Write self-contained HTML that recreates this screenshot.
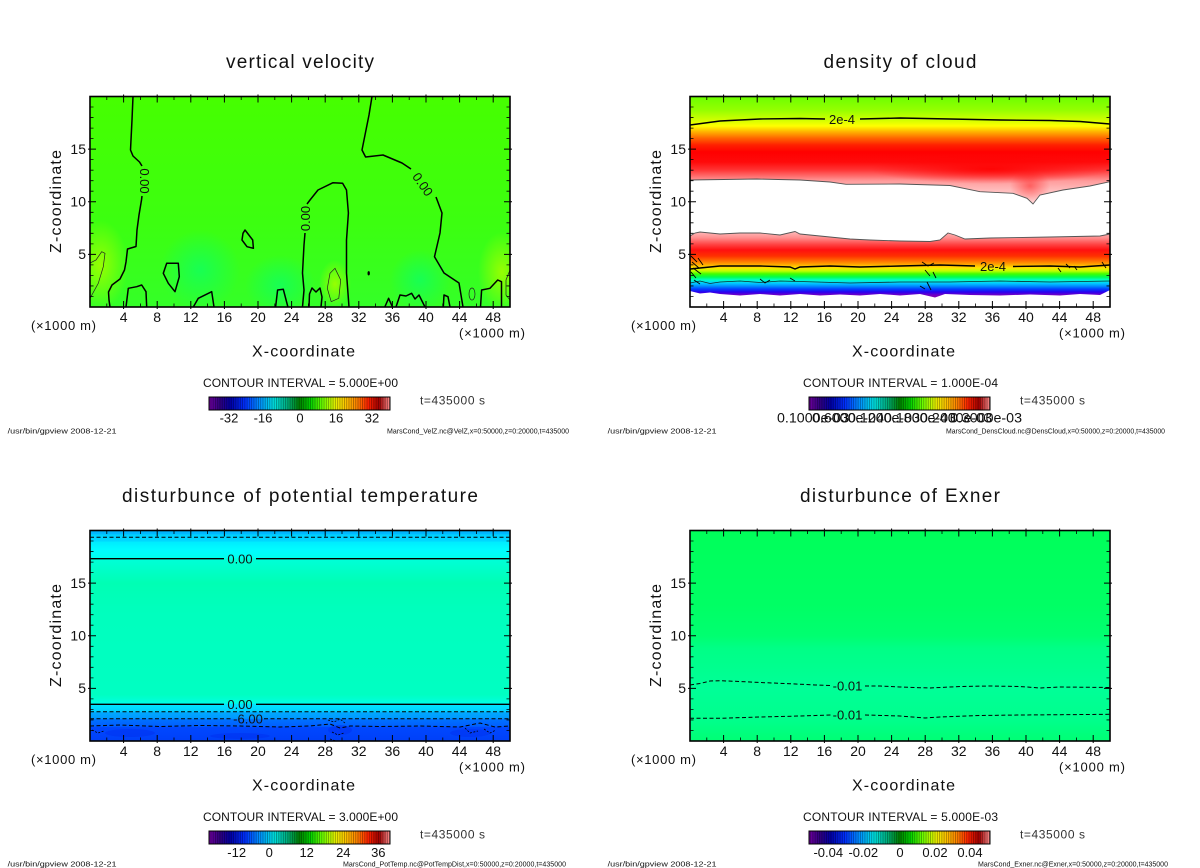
<!DOCTYPE html>
<html><head><meta charset="utf-8"><style>
html,body{margin:0;padding:0;background:#fff;}
svg{display:block;}
text{font-family:"Liberation Sans",sans-serif;fill:#111;}
</style></head><body>
<svg width="1200" height="868" viewBox="0 0 1200 868" xmlns="http://www.w3.org/2000/svg">
<defs>
  <clipPath id="c1"><rect x="90" y="96.5" width="420" height="210.5"/></clipPath>
  <clipPath id="c2"><rect x="690" y="96.5" width="420" height="210.5"/></clipPath>
  <clipPath id="c3"><rect x="90" y="530.5" width="420" height="210.5"/></clipPath>
  <clipPath id="c4"><rect x="690" y="530.5" width="420" height="210.5"/></clipPath>
  <linearGradient id="vvbg" x1="0" y1="96.5" x2="0" y2="307" gradientUnits="userSpaceOnUse">
    <stop offset="0" stop-color="#46ff00"/><stop offset="0.6" stop-color="#3cff10"/><stop offset="1" stop-color="#34ff28"/>
  </linearGradient>
  <radialGradient id="ylw"><stop offset="0" stop-color="#9cff00" stop-opacity="0.95"/><stop offset="1" stop-color="#9cff00" stop-opacity="0"/></radialGradient>
  <radialGradient id="cyg"><stop offset="0" stop-color="#10ff60" stop-opacity="0.8"/><stop offset="1" stop-color="#10ff60" stop-opacity="0"/></radialGradient>
  <linearGradient id="dcu" x1="0" y1="96.5" x2="0" y2="205" gradientUnits="userSpaceOnUse">
    <stop offset="0" stop-color="#6cff00"/>
    <stop offset="0.124" stop-color="#94ff00"/>
    <stop offset="0.217" stop-color="#d0ff00"/>
    <stop offset="0.272" stop-color="#ffff00"/>
    <stop offset="0.327" stop-color="#ffb000"/>
    <stop offset="0.382" stop-color="#ff6800"/>
    <stop offset="0.447" stop-color="#ff2000"/>
    <stop offset="0.512" stop-color="#ff0000"/>
    <stop offset="0.604" stop-color="#ff0a0a"/>
    <stop offset="0.677" stop-color="#ff3434"/>
    <stop offset="0.733" stop-color="#ff6c6c"/>
    <stop offset="0.779" stop-color="#ff9c9c"/>
    <stop offset="0.862" stop-color="#ffbcbc"/>
    <stop offset="1" stop-color="#ffd8d8"/>
  </linearGradient>
  <radialGradient id="redo"><stop offset="0" stop-color="#ff0000" stop-opacity="0.9"/><stop offset="1" stop-color="#ff0000" stop-opacity="0"/></radialGradient>
  <linearGradient id="dcl" x1="0" y1="231" x2="0" y2="297" gradientUnits="userSpaceOnUse">
    <stop offset="0" stop-color="#ffc0c0"/>
    <stop offset="0.106" stop-color="#ff8c8c"/>
    <stop offset="0.197" stop-color="#ff4848"/>
    <stop offset="0.288" stop-color="#ff1010"/>
    <stop offset="0.379" stop-color="#ff3000"/>
    <stop offset="0.44" stop-color="#ff6400"/>
    <stop offset="0.5" stop-color="#ffa000"/>
    <stop offset="0.56" stop-color="#ffe400"/>
    <stop offset="0.606" stop-color="#c0ff00"/>
    <stop offset="0.65" stop-color="#40ff00"/>
    <stop offset="0.697" stop-color="#00ff50"/>
    <stop offset="0.742" stop-color="#00ffc8"/>
    <stop offset="0.788" stop-color="#00d0ff"/>
    <stop offset="0.833" stop-color="#0090ff"/>
    <stop offset="0.879" stop-color="#0040ff"/>
    <stop offset="0.924" stop-color="#2800f0"/>
    <stop offset="0.97" stop-color="#7000c4"/>
    <stop offset="1" stop-color="#8000b0"/>
  </linearGradient>
  <linearGradient id="ptg" x1="0" y1="530.5" x2="0" y2="741" gradientUnits="userSpaceOnUse">
    <stop offset="0" stop-color="#00b4ff"/>
    <stop offset="0.016" stop-color="#00b8ff"/>
    <stop offset="0.02" stop-color="#00d0ff"/>
    <stop offset="0.05" stop-color="#00d8ff"/>
    <stop offset="0.055" stop-color="#00ecff"/>
    <stop offset="0.09" stop-color="#00fcff"/>
    <stop offset="0.13" stop-color="#00fff0"/>
    <stop offset="0.135" stop-color="#00ffd8"/>
    <stop offset="0.25" stop-color="#00ffb4"/>
    <stop offset="0.4" stop-color="#00ffbe"/>
    <stop offset="0.78" stop-color="#00ffc2"/>
    <stop offset="0.8" stop-color="#00ffd0"/>
    <stop offset="0.82" stop-color="#00ffe4"/>
    <stop offset="0.826" stop-color="#00e4ff"/>
    <stop offset="0.86" stop-color="#00d0ff"/>
    <stop offset="0.865" stop-color="#00a8ff"/>
    <stop offset="0.893" stop-color="#0098ff"/>
    <stop offset="0.898" stop-color="#0070ff"/>
    <stop offset="0.93" stop-color="#0060ff"/>
    <stop offset="0.935" stop-color="#0048ff"/>
    <stop offset="1" stop-color="#0040f8"/>
  </linearGradient>
  <linearGradient id="exg" x1="0" y1="530.5" x2="0" y2="741" gradientUnits="userSpaceOnUse">
    <stop offset="0" stop-color="#00ff5a"/>
    <stop offset="0.35" stop-color="#00ff64"/>
    <stop offset="0.5" stop-color="#00ff70"/>
    <stop offset="0.56" stop-color="#00ff86"/>
    <stop offset="0.75" stop-color="#00ff98"/>
    <stop offset="0.9" stop-color="#00ff8c"/>
    <stop offset="1" stop-color="#00ff74"/>
  </linearGradient>
  <linearGradient id="cb" x1="0" y1="0" x2="1" y2="0">
    <stop offset="0" stop-color="#7000a0"/>
    <stop offset="0.06" stop-color="#300080"/>
    <stop offset="0.12" stop-color="#0000a8"/>
    <stop offset="0.2" stop-color="#0030ff"/>
    <stop offset="0.28" stop-color="#0090ff"/>
    <stop offset="0.36" stop-color="#00e0e0"/>
    <stop offset="0.43" stop-color="#00b080"/>
    <stop offset="0.5" stop-color="#008000"/>
    <stop offset="0.56" stop-color="#00d000"/>
    <stop offset="0.63" stop-color="#70ff00"/>
    <stop offset="0.7" stop-color="#e8f000"/>
    <stop offset="0.76" stop-color="#ffc000"/>
    <stop offset="0.82" stop-color="#ff8000"/>
    <stop offset="0.88" stop-color="#ff2000"/>
    <stop offset="0.94" stop-color="#a00000"/>
    <stop offset="1" stop-color="#ff9090"/>
  </linearGradient>
  <pattern id="st" width="2.263" height="20" patternUnits="userSpaceOnUse">
    <rect width="0.9" height="20" fill="#000" opacity="0.32"/>
  </pattern>
  <g id="tk" fill="none" stroke="#000">
    <path stroke-width="1" d="M33.6,-2v8M67.2,-2v8M100.8,-2v8M134.4,-2v8M168,-2v8M201.6,-2v8M235.2,-2v8M268.8,-2v8M302.4,-2v8M336,-2v8M369.6,-2v8M403.2,-2v8
    M33.6,212.5v-8M67.2,212.5v-8M100.8,212.5v-8M134.4,212.5v-8M168,212.5v-8M201.6,212.5v-8M235.2,212.5v-8M268.8,212.5v-8M302.4,212.5v-8M336,212.5v-8M369.6,212.5v-8M403.2,212.5v-8
    M-2,157.9h8M-2,105.25h8M-2,52.6h8M422,157.9h-8M422,105.25h-8M422,52.6h-8"/>
    <path stroke-width="0.8" d="M16.8,0v3.5M50.4,0v3.5M84,0v3.5M117.6,0v3.5M151.2,0v3.5M184.8,0v3.5M218.4,0v3.5M252,0v3.5M285.6,0v3.5M319.2,0v3.5M352.8,0v3.5M386.4,0v3.5
    M16.8,210.5v-3.5M50.4,210.5v-3.5M84,210.5v-3.5M117.6,210.5v-3.5M151.2,210.5v-3.5M184.8,210.5v-3.5M218.4,210.5v-3.5M252,210.5v-3.5M285.6,210.5v-3.5M319.2,210.5v-3.5M352.8,210.5v-3.5M386.4,210.5v-3.5
    M0,200h3.5M0,189.45h3.5M0,178.9h3.5M0,168.4h3.5M0,147.35h3.5M0,136.8h3.5M0,126.3h3.5M0,115.8h3.5M0,94.7h3.5M0,84.2h3.5M0,73.7h3.5M0,63.15h3.5M0,42.1h3.5M0,31.6h3.5M0,21.05h3.5M0,10.5h3.5
    M420,200h-3.5M420,189.45h-3.5M420,178.9h-3.5M420,168.4h-3.5M420,147.35h-3.5M420,136.8h-3.5M420,126.3h-3.5M420,115.8h-3.5M420,94.7h-3.5M420,84.2h-3.5M420,73.7h-3.5M420,63.15h-3.5M420,42.1h-3.5M420,31.6h-3.5M420,21.05h-3.5M420,10.5h-3.5"/>
    <rect x="0" y="0" width="420" height="210.5" stroke-width="1.6"/>
  </g>
</defs>
<rect width="1200" height="868" fill="#fff"/>

<!-- ============ PANEL 1: vertical velocity ============ -->
<g clip-path="url(#c1)">
  <rect x="90" y="96.5" width="420" height="210.5" fill="url(#vvbg)"/>
  <ellipse cx="100" cy="265" rx="28" ry="45" fill="url(#ylw)"/>
  <ellipse cx="502" cy="272" rx="24" ry="40" fill="url(#ylw)"/>
  <ellipse cx="335" cy="284" rx="16" ry="24" fill="url(#ylw)"/>
  <ellipse cx="200" cy="270" rx="40" ry="40" fill="url(#cyg)"/>
  <ellipse cx="280" cy="285" rx="35" ry="30" fill="url(#cyg)"/>
  <ellipse cx="420" cy="280" rx="30" ry="30" fill="url(#cyg)"/>
  <g fill="none" stroke="#000" stroke-width="1.5" stroke-linejoin="round">
    <path d="M133,96.5 L132,120 L130.5,150 L133,156 L139.5,162 L142,166"/>
    <path d="M142,196 L141.5,200 L139,215 L137,230 L136,246.5 L127.5,249 L126,262 L124.5,270 L120,279 L112,285 L108.5,292 L109,300 L110,307"/>
    <path d="M302.5,307 L304,290 L302.5,273 L304,245 L305,233"/>
    <path d="M307,204 L310,200 L318,190 L333,182.7 L342.6,183.3 L346.5,190 L348.4,213 L346.5,240 L346.5,273 L349,307"/>
    <path d="M372,96.5 L369,115 L365,135 L362,150 L365.6,157 L383,155 L402,163 L411,169"/>
    <path d="M436,197 L442,213 L440,233 L434.5,256.7 L444,273 L459,283 L463,307"/>
    <path d="M166.7,263.3 L178.3,263.3 L179.3,276.7 L175,291.7 L168.3,283.3 L163.3,273.3 Z"/>
    <path d="M245,230 L252.7,240 L253.4,248.3 L247,246.7 L242,240 L243,233.3 Z"/>
    <path d="M126,307 L128.3,288.3 L136.7,286.7 L141.7,285 L146,291.7 L146.7,307"/>
    <path d="M193.3,307 L198.3,298.3 L211.7,291.7 L214,307"/>
    <path d="M275.6,307 L277.6,290 L283.3,289.3 L287.9,307"/>
    <path d="M309,307 L309.5,294 L312,288 L316,292 L320,288 L322,297 L321,307"/>
    <path d="M384.8,307 L388.6,298.3 L392.5,307"/>
    <path d="M396,307 L400,295 L406,296 L411.6,293.3 L415,299 L419,295 L425,307"/>
    <path d="M443.3,307 L444,295 L448,296.7 L450,307"/>
    <path d="M480.5,307 L481.6,290 L490,288.3 L497.7,280 L501.5,281.7 L501.5,307"/>
  </g>
  <ellipse cx="368.7" cy="273.3" rx="1.2" ry="2.2" fill="#000"/>
  <g fill="none" stroke="#222" stroke-width="0.7">
    <path d="M90,263 L96,260 L101.7,251.7 L105,253.3 L103.3,266.7 L98.3,283.3 L90,298.3"/>
    <path d="M335,268.3 L340.7,280 L338.8,298.3 L331.2,301.7 L327.3,288.3 L330,273.3 Z"/>
    <ellipse cx="472" cy="294" rx="3" ry="6"/>
    <path d="M510,270 L506,280 L506,295 L510,300"/>
  </g>
</g>
<text x="0" y="0" font-size="13" text-anchor="middle" transform="translate(140,181) rotate(90)">0.00</text>
<text x="0" y="0" font-size="13" text-anchor="middle" transform="translate(310,218.5) rotate(-90)">0.00</text>
<text x="0" y="0" font-size="13" text-anchor="middle" transform="translate(419,187) rotate(55)">0.00</text>
<use href="#tk" transform="translate(90,96.5)"/>

<text x="300" y="68" font-size="19" text-anchor="middle" textLength="148" lengthAdjust="spacing">vertical velocity</text>
<text font-size="16" text-anchor="middle" transform="translate(61,201.5) rotate(-90)" textLength="103" lengthAdjust="spacing">Z-coordinate</text>
<g font-size="14" text-anchor="end"><text x="86" y="154">15</text><text x="86" y="206.5">10</text><text x="86" y="259.2">5</text></g>
<g font-size="14" text-anchor="middle">
<text x="123.6" y="322">4</text><text x="157.2" y="322">8</text><text x="190.8" y="322">12</text><text x="224.4" y="322">16</text><text x="258" y="322">20</text><text x="291.6" y="322">24</text><text x="325.2" y="322">28</text><text x="358.8" y="322">32</text><text x="392.4" y="322">36</text><text x="426" y="322">40</text><text x="459.6" y="322">44</text><text x="493.2" y="322">48</text>
</g>
<text x="31" y="330" font-size="13" textLength="65" lengthAdjust="spacing">(×1000 m)</text>
<text x="459" y="337.5" font-size="13" textLength="66" lengthAdjust="spacing">(×1000 m)</text>
<text x="303.5" y="356.5" font-size="16" text-anchor="middle" textLength="103" lengthAdjust="spacing">X-coordinate</text>
<text x="203" y="387" font-size="12" textLength="195" lengthAdjust="spacing">CONTOUR INTERVAL = 5.000E+00</text>
<rect x="209" y="397" width="181" height="13" fill="url(#cb)"/><rect x="209" y="397" width="181" height="13" fill="url(#st)"/><rect x="209" y="397" width="181" height="13" fill="none" stroke="#000" stroke-width="1"/>
<g font-size="13" text-anchor="middle"><text x="229" y="422.5">-32</text><text x="263" y="422.5">-16</text><text x="300" y="422.5">0</text><text x="336" y="422.5">16</text><text x="372" y="422.5">32</text></g>
<text x="420" y="404.5" font-size="12" textLength="65" lengthAdjust="spacing" style="fill:#333">t=435000 s</text>
<text x="7.6" y="433.5" font-size="7" textLength="109" lengthAdjust="spacingAndGlyphs">/usr/bin/gpview  2008-12-21</text>
<text x="387" y="433.5" font-size="7" textLength="182" lengthAdjust="spacingAndGlyphs">MarsCond_VelZ.nc@VelZ,x=0:50000,z=0:20000,t=435000</text>

<!-- ============ PANEL 2: density of cloud ============ -->
<g clip-path="url(#c2)">
  <rect x="690" y="96.5" width="420" height="210.5" fill="#fff"/>
  <clipPath id="cu"><path d="M690,96.5 H1110 V181.7 L1090,186 L1063,190 L1040,195 L1033,204 L1027,198.3 L1013,193.3 L980,191.7 L950,185.5 L900,184 L846,184.3 L830,182 L800,180 L757,179 L690,180 Z"/></clipPath>
  <path d="M690,96.5 H1110 V181.7 L1090,186 L1063,190 L1040,195 L1033,204 L1027,198.3 L1013,193.3 L980,191.7 L950,185.5 L900,184 L846,184.3 L830,182 L800,180 L757,179 L690,180 Z" fill="url(#dcu)"/>
  <g clip-path="url(#cu)">
    <ellipse cx="990" cy="169" rx="120" ry="15" fill="url(#redo)"/>
    <ellipse cx="1030" cy="186" rx="20" ry="16" fill="url(#redo)" opacity="0.5"/>
  </g>
  <path d="M690,180 L757,179 L800,180 L830,182 L846,184.3 L900,184 L950,185.5 L980,191.7 L1013,193.3 L1027,198.3 L1033,204 L1040,195 L1063,190 L1090,186 L1110,181.7" fill="none" stroke="#555" stroke-width="0.9"/>
  <path d="M690,236 L695,233 L700,232 L720,234 L740,233 L760,233 L780,235 L795,231.5 L800,234 L820,236 L850,239 L870,240 L900,241 L930,241.5 L940,240 L948,233 L955,235 L965,239 L990,238 L1050,237 L1100,236 L1110,234 L1110,290 L1106,292 L1100,295 L1080,294 L1060,295.5 L1030,294.5 L1000,295.5 L970,295 L945,294 L935,297.5 L920,294 L900,295.5 L880,294 L860,295.5 L840,294.5 L820,295.5 L800,294 L780,295.5 L760,294 L740,295.5 L720,294 L710,292.5 L700,293.5 L690,291 Z" fill="url(#dcl)"/>
  <path d="M690,236 L695,233 L700,232 L720,234 L740,233 L760,233 L780,235 L795,231.5 L800,234 L820,236 L850,239 L870,240 L900,241 L930,241.5 L940,240 L948,233 L955,235 L965,239 L990,238 L1050,237 L1100,236 L1110,234" fill="none" stroke="#555" stroke-width="0.9"/>
  <g fill="none" stroke="#000" stroke-width="1.4">
    <path d="M690,125 L720,121 L760,119 L800,118.5 L825,119"/>
    <path d="M860,119 L900,118 L950,119 L1000,120 L1050,120.5 L1080,121.5 L1110,124"/>
    <path d="M690,269 L700,268 L720,266 L760,266 L790,267 L795,269 L800,267 L830,266 L860,267 L900,266 L940,265 L975,266"/>
    <path d="M1013,266.5 L1050,266 L1080,267 L1110,265"/>
  </g>
  <path d="M690,283 L700,281 L710,283.5 L720,282 L740,281 L760,282.5 L780,281 L800,281.5 L850,283 L900,282 L950,282 L1000,281 L1050,282 L1110,281" fill="none" stroke="#103030" stroke-width="0.8"/>
  <g fill="none" stroke="#000" stroke-width="0.9">
    <path d="M691,256 L697,262 M692,262 L699,268 M693,268 L701,274 M691,272 L696,278 M694,280 L700,284 M698,258 L703,265"/>
    <path d="M922,262 L928,266 L934,263 M925,270 L930,276 M927,282 L931,290 M920,286 L925,289 M933,272 L936,278"/>
    <path d="M1058,268 L1061,272 M1066,264 L1070,268 M1074,266 L1077,270 M1102,262 L1106,268"/>
    <path d="M760,279 L765,283 L770,280 M790,278 L795,281"/>
  </g>
</g>
<text x="842" y="124" font-size="13" text-anchor="middle">2e-4</text>
<text x="993" y="271" font-size="13" text-anchor="middle">2e-4</text>
<use href="#tk" transform="translate(690,96.5)"/>

<text x="900" y="68" font-size="19" text-anchor="middle" textLength="153" lengthAdjust="spacing">density of cloud</text>
<text font-size="16" text-anchor="middle" transform="translate(661,201.5) rotate(-90)" textLength="103" lengthAdjust="spacing">Z-coordinate</text>
<g font-size="14" text-anchor="end"><text x="686" y="154">15</text><text x="686" y="206.5">10</text><text x="686" y="259.2">5</text></g>
<g font-size="14" text-anchor="middle">
<text x="723.6" y="322">4</text><text x="757.2" y="322">8</text><text x="790.8" y="322">12</text><text x="824.4" y="322">16</text><text x="858" y="322">20</text><text x="891.6" y="322">24</text><text x="925.2" y="322">28</text><text x="958.8" y="322">32</text><text x="992.4" y="322">36</text><text x="1026" y="322">40</text><text x="1059.6" y="322">44</text><text x="1093.2" y="322">48</text>
</g>
<text x="631" y="330" font-size="13" textLength="65" lengthAdjust="spacing">(×1000 m)</text>
<text x="1059" y="337.5" font-size="13" textLength="66" lengthAdjust="spacing">(×1000 m)</text>
<text x="903.5" y="356.5" font-size="16" text-anchor="middle" textLength="103" lengthAdjust="spacing">X-coordinate</text>
<text x="803" y="387" font-size="12" textLength="195" lengthAdjust="spacing">CONTOUR INTERVAL = 1.000E-04</text>
<rect x="809" y="397" width="181" height="13" fill="url(#cb)"/><rect x="809" y="397" width="181" height="13" fill="url(#st)"/><rect x="809" y="397" width="181" height="13" fill="none" stroke="#000" stroke-width="1"/>
<g font-size="14">
<text x="777" y="422.5" textLength="72" lengthAdjust="spacingAndGlyphs">0.1000e-03</text>
<text x="812" y="422.5" textLength="72" lengthAdjust="spacingAndGlyphs">0.6000e-04</text>
<text x="848" y="422.5" textLength="72" lengthAdjust="spacingAndGlyphs">0.1200e-03</text>
<text x="884" y="422.5" textLength="72" lengthAdjust="spacingAndGlyphs">0.1800e-03</text>
<text x="920" y="422.5" textLength="72" lengthAdjust="spacingAndGlyphs">0.2400e-03</text>
<text x="950" y="422.5" textLength="72" lengthAdjust="spacingAndGlyphs">0.3000e-03</text>
</g>
<text x="1020" y="404.5" font-size="12" textLength="65" lengthAdjust="spacing" style="fill:#333">t=435000 s</text>
<text x="607.6" y="433.5" font-size="7" textLength="109" lengthAdjust="spacingAndGlyphs">/usr/bin/gpview  2008-12-21</text>
<text x="946" y="433.5" font-size="7" textLength="219" lengthAdjust="spacingAndGlyphs">MarsCond_DensCloud.nc@DensCloud,x=0:50000,z=0:20000,t=435000</text>

<!-- ============ PANEL 3: potential temperature ============ -->
<g clip-path="url(#c3)">
  <rect x="90" y="530.5" width="420" height="210.5" fill="url(#ptg)"/>
  <g fill="#0030f0" opacity="0.5">
    <ellipse cx="130" cy="733" rx="25" ry="4"/><ellipse cx="240" cy="736" rx="30" ry="3"/><ellipse cx="340" cy="730" rx="12" ry="5"/><ellipse cx="470" cy="733" rx="20" ry="4"/>
  </g>
  <g fill="none" stroke="#000" stroke-width="1.4">
    <path d="M90,558.7 H224 M256,558.7 H510"/>
    <path d="M90,704.3 H224 M256,704.3 H510"/>
  </g>
  <g fill="none" stroke="#000" stroke-width="1" stroke-dasharray="4 2.5">
    <path d="M90,537.3 H510"/>
    <path d="M90,711.7 H510"/>
    <path d="M90,718.7 H232 M264,718.7 H510"/>
    <path d="M90,726 L120,725 L160,726.5 L200,725.5 L240,726 L280,727 L310,726 L330,724 L340,728 L350,726 L380,726.5 L420,726 L460,727 L480,723 L495,727 L510,726"/>
  </g>
  <g fill="none" stroke="#000" stroke-width="0.8" stroke-dasharray="2 1.5">
    <path d="M92,730 L98,733 L104,731 M328,720 L334,722 L340,719 L345,723 M332,732 L338,735 L344,733 M465,728 L470,733 L478,731 M484,729 L490,733 L496,730 M330,739 L336,741"/>
  </g>
</g>
<text x="240" y="563.3" font-size="13" text-anchor="middle">0.00</text>
<text x="240" y="708.8" font-size="13" text-anchor="middle">0.00</text>
<text x="248" y="723.3" font-size="13" text-anchor="middle">-6.00</text>
<use href="#tk" transform="translate(90,530.5)"/>

<text x="300" y="502" font-size="19" text-anchor="middle" textLength="356" lengthAdjust="spacing">disturbunce of potential temperature</text>
<text font-size="16" text-anchor="middle" transform="translate(61,635.5) rotate(-90)" textLength="103" lengthAdjust="spacing">Z-coordinate</text>
<g font-size="14" text-anchor="end"><text x="86" y="588">15</text><text x="86" y="640.5">10</text><text x="86" y="693.2">5</text></g>
<g font-size="14" text-anchor="middle">
<text x="123.6" y="756">4</text><text x="157.2" y="756">8</text><text x="190.8" y="756">12</text><text x="224.4" y="756">16</text><text x="258" y="756">20</text><text x="291.6" y="756">24</text><text x="325.2" y="756">28</text><text x="358.8" y="756">32</text><text x="392.4" y="756">36</text><text x="426" y="756">40</text><text x="459.6" y="756">44</text><text x="493.2" y="756">48</text>
</g>
<text x="31" y="764" font-size="13" textLength="65" lengthAdjust="spacing">(×1000 m)</text>
<text x="459" y="771.5" font-size="13" textLength="66" lengthAdjust="spacing">(×1000 m)</text>
<text x="303.5" y="790.5" font-size="16" text-anchor="middle" textLength="103" lengthAdjust="spacing">X-coordinate</text>
<text x="203" y="821" font-size="12" textLength="195" lengthAdjust="spacing">CONTOUR INTERVAL = 3.000E+00</text>
<rect x="209" y="831" width="181" height="13" fill="url(#cb)"/><rect x="209" y="831" width="181" height="13" fill="url(#st)"/><rect x="209" y="831" width="181" height="13" fill="none" stroke="#000" stroke-width="1"/>
<g font-size="13" text-anchor="middle"><text x="236.7" y="857">-12</text><text x="269.3" y="857">0</text><text x="306.7" y="857">12</text><text x="343.3" y="857">24</text><text x="378.3" y="857">36</text></g>
<text x="420" y="838.5" font-size="12" textLength="65" lengthAdjust="spacing" style="fill:#333">t=435000 s</text>
<text x="7.6" y="866.5" font-size="7" textLength="109" lengthAdjust="spacingAndGlyphs">/usr/bin/gpview  2008-12-21</text>
<text x="343" y="866.5" font-size="7" textLength="223" lengthAdjust="spacingAndGlyphs">MarsCond_PotTemp.nc@PotTempDist,x=0:50000,z=0:20000,t=435000</text>

<!-- ============ PANEL 4: Exner ============ -->
<g clip-path="url(#c4)">
  <rect x="690" y="530.5" width="420" height="210.5" fill="url(#exg)"/>
  <g fill="none" stroke="#000" stroke-width="1" stroke-dasharray="4 2.5">
    <path d="M690,685 L700,683.5 L710,681 L720,680.7 L740,681.5 L760,682.5 L790,683.7 L815,685 L831,685.5"/>
    <path d="M865,686 L880,686 L900,687 L930,688 L960,686.5 L990,686 L1020,686.5 L1040,688 L1060,687 L1110,687.5"/>
    <path d="M690,718.3 L720,718.3 L760,717 L800,716 L831,715"/>
    <path d="M865,715 L900,716 L925,718 L940,717 L980,715.5 L1020,715 L1060,714.7 L1110,714.3"/>
  </g>
</g>
<text x="847.5" y="690.5" font-size="13" text-anchor="middle">-0.01</text>
<text x="847.5" y="719.5" font-size="13" text-anchor="middle">-0.01</text>
<use href="#tk" transform="translate(690,530.5)"/>

<text x="900" y="502" font-size="19" text-anchor="middle" textLength="200" lengthAdjust="spacing">disturbunce of Exner</text>
<text font-size="16" text-anchor="middle" transform="translate(661,635.5) rotate(-90)" textLength="103" lengthAdjust="spacing">Z-coordinate</text>
<g font-size="14" text-anchor="end"><text x="686" y="588">15</text><text x="686" y="640.5">10</text><text x="686" y="693.2">5</text></g>
<g font-size="14" text-anchor="middle">
<text x="723.6" y="756">4</text><text x="757.2" y="756">8</text><text x="790.8" y="756">12</text><text x="824.4" y="756">16</text><text x="858" y="756">20</text><text x="891.6" y="756">24</text><text x="925.2" y="756">28</text><text x="958.8" y="756">32</text><text x="992.4" y="756">36</text><text x="1026" y="756">40</text><text x="1059.6" y="756">44</text><text x="1093.2" y="756">48</text>
</g>
<text x="631" y="764" font-size="13" textLength="65" lengthAdjust="spacing">(×1000 m)</text>
<text x="1059" y="771.5" font-size="13" textLength="66" lengthAdjust="spacing">(×1000 m)</text>
<text x="903.5" y="790.5" font-size="16" text-anchor="middle" textLength="103" lengthAdjust="spacing">X-coordinate</text>
<text x="803" y="821" font-size="12" textLength="195" lengthAdjust="spacing">CONTOUR INTERVAL = 5.000E-03</text>
<rect x="809" y="831" width="181" height="13" fill="url(#cb)"/><rect x="809" y="831" width="181" height="13" fill="url(#st)"/><rect x="809" y="831" width="181" height="13" fill="none" stroke="#000" stroke-width="1"/>
<g font-size="13" text-anchor="middle"><text x="828.3" y="857">-0.04</text><text x="863.3" y="857">-0.02</text><text x="900" y="857">0</text><text x="935" y="857">0.02</text><text x="970" y="857">0.04</text></g>
<text x="1020" y="838.5" font-size="12" textLength="65" lengthAdjust="spacing" style="fill:#333">t=435000 s</text>
<text x="607.6" y="866.5" font-size="7" textLength="109" lengthAdjust="spacingAndGlyphs">/usr/bin/gpview  2008-12-21</text>
<text x="978" y="866.5" font-size="7" textLength="190" lengthAdjust="spacingAndGlyphs">MarsCond_Exner.nc@Exner,x=0:50000,z=0:20000,t=435000</text>
</svg>
</body></html>
